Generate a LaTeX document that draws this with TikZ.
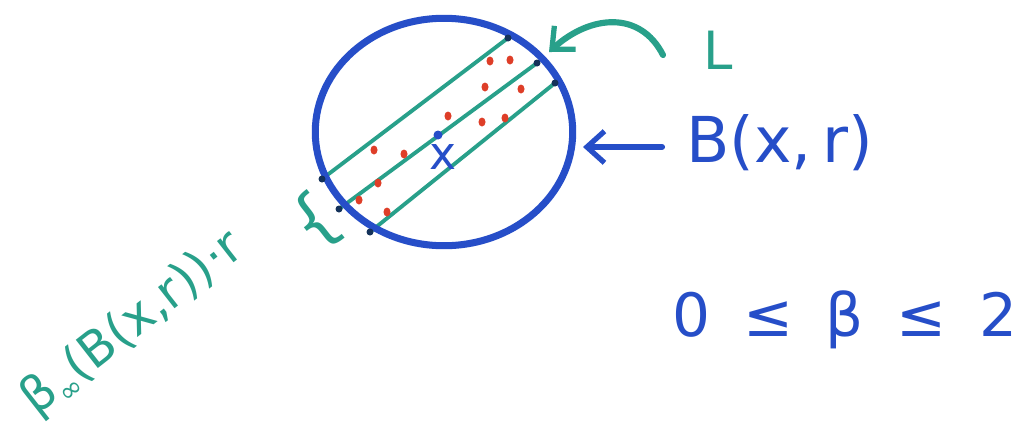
\documentclass[tikz,border=0pt]{standalone}
\usepackage{fontspec}
\setmainfont{DejaVu Sans}
\usetikzlibrary{shapes.geometric,arrows.meta}
\definecolor{inkblue}{RGB}{38,78,200}
\definecolor{inkgreen}{RGB}{40,160,138}
\definecolor{inkred}{RGB}{222,62,40}
\definecolor{inkdark}{RGB}{20,50,90}
\tikzset{
  ballstyle/.style={ellipse, draw=inkblue, line width=4pt, minimum width=5.15cm, minimum height=4.55cm, inner sep=0pt},
  lineL/.style={draw=inkgreen, line width=2.2pt, line cap=round},
  reddot/.style={fill=inkred},
  crossdot/.style={fill=inkdark},
  bluelbl/.style={text=inkblue, inner sep=0pt},
  greenlbl/.style={text=inkgreen, inner sep=0pt},
  bluearrow/.style={draw=inkblue, line width=3.5pt, line cap=round, -{Straight Barb[length=10pt,width=18pt,line width=3pt]}},
  greenarrow/.style={draw=inkgreen, line width=3.5pt, line cap=round, -{Straight Barb[length=10pt,width=18pt,line width=3pt]}}
}
\begin{document}
\begin{tikzpicture}[x=0.02cm,y=-0.02cm]
\useasboundingbox[fill=white] (0,0) rectangle (1019,430);
% green parallel lines
\coordinate (a1) at (322,179); \coordinate (b1) at (508,38);
\coordinate (a2) at (339,209); \coordinate (b2) at (537,63);
\coordinate (a3) at (370,232); \coordinate (b3) at (555,83);
\draw[lineL] (a1) -- (b1);
\draw[lineL] (a2) -- (b2);
\draw[lineL] (a3) -- (b3);
% ball
\node[ballstyle] (ball) at (444,132) {};
% intersection marks
\foreach \p in {a1,b1,a2,b2,a3,b3} \fill[crossdot] (\p) circle (3.5);
% red points
\foreach \p in {(490,61),(510,60),(485,87),(521,89),(448,116),(482,122),(505,118),(374,150),(404,154),(378,183),(359,200),(387,212)}
  \fill[reddot] \p ellipse (3.5 and 4.5);
% centre point
\fill[inkblue] (438,135) circle (4.5);
\node[bluelbl, font=\fontsize{26}{26}\selectfont] (xlbl) at (443,157) {x};
% L label and arrow
\node[greenlbl, font=\fontsize{30}{30}\selectfont] (Llbl) at (718,50) {L};
\coordinate (Lstart) at (663,55);
\draw[greenarrow] (Lstart) .. controls (640,10) and (590,15) .. (549,52);
% B(x,r) label and arrow
\node[bluelbl, anchor=west, font=\fontsize{36}{36}\selectfont] (Blbl) at (686,143) {B(x,\,r)};
\coordinate (Bstart) at (662,147);
\draw[bluearrow] (Bstart) -- (583,147);
% constraint
\node[bluelbl, font=\fontsize{34}{34}\selectfont] (cons) at (845,320) {0\hspace{0.55em}≤\hspace{0.55em}β\hspace{0.55em}≤\hspace{0.55em}2};
% brace
\node[greenlbl, rotate=38, font=\fontsize{38}{38}\selectfont] (brace) at (316,222) {\{};
% width label
\node[greenlbl, rotate=38, font=\fontsize{28}{28}\selectfont] (wlbl) at (133,324) {β\raisebox{-0.35ex}{\fontsize{16}{16}\selectfont∞}(B(x,r))·r};
\end{tikzpicture}
\end{document}
